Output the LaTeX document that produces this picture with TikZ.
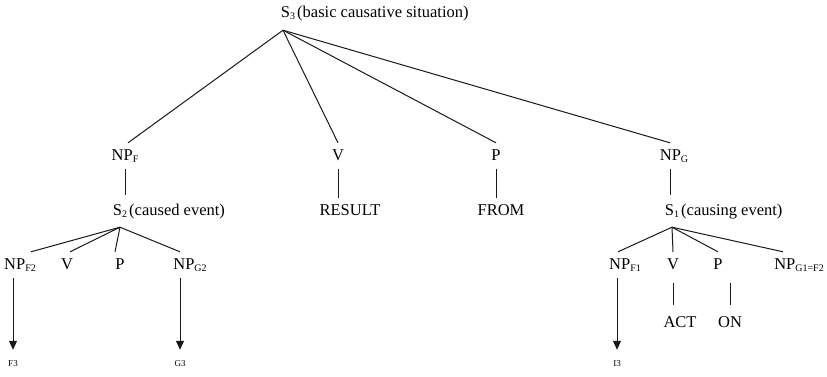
\documentclass[tikz,border=0pt]{standalone}
\usepackage{fontspec}
\setmainfont{Liberation Serif}
\usetikzlibrary{arrows.meta}
\newcommand\sbs[1]{\raisebox{-0.35ex}{\fontsize{10}{10}\selectfont #1}}
\begin{document}
\begin{tikzpicture}[x=1pt,y=-1pt,
  tn/.style={font=\fontsize{16.5}{19}\selectfont, inner xsep=0pt, inner ysep=6pt, text height=11pt, text depth=3pt},
  leaf/.style={font=\fontsize{9}{10}\selectfont, inner xsep=0pt, inner ysep=11pt},
  edge/.style={line width=1pt, draw=black!90},
  arr/.style={edge, -{Triangle[length=9pt,width=8pt]}}]
\useasboundingbox (0,0) rectangle (827,376);
% root
\node[tn, inner ysep=10pt] (s3) at (288,13) {S\sbs{3}};
\node[tn, anchor=west] (s3d) at (297,13) {(basic causative situation)};
% row 1
\node[tn] (npf) at (125,156) {NP\sbs{F}};
\node[tn] (v1) at (338,156) {V};
\node[tn] (p1) at (496,156) {P};
\node[tn] (npg) at (674,156) {NP\sbs{G}};
% row 2
\node[tn, inner ysep=9pt] (s2) at (120,211) {S\sbs{2}};
\node[tn, anchor=west] (s2d) at (129,211) {(caused event)};
\node[tn] (result) at (350,211) {RESULT};
\node[tn] (from) at (501,211) {FROM};
\node[tn, inner ysep=9pt] (s1) at (672,211) {S\sbs{1}};
\node[tn, anchor=west] (s1d) at (681,211) {(causing event)};
% row 3
\node[tn] (npf2) at (20,265) {NP\sbs{F2}};
\node[tn] (v2) at (67,265) {V};
\node[tn] (p2) at (120,265) {P};
\node[tn] (npg2) at (190,265) {NP\sbs{G2}};
\node[tn] (npf1) at (625,265) {NP\sbs{F1}};
\node[tn] (v3) at (673,265) {V};
\node[tn] (p3) at (718,265) {P};
\node[tn] (npg1) at (799,265) {NP\sbs{G1=F2}};
% row 4
\node[tn, inner ysep=11pt] (act) at (680,323) {ACT};
\node[tn, inner ysep=11pt] (on) at (730,323) {ON};
% leaves
\node[leaf] (f3) at (13,364) {F3};
\node[leaf] (g3) at (180,364) {G3};
\node[leaf] (i3) at (617,364) {I3};
% connectors
\draw[edge] ([xshift=-5pt]s3.south) -- ([xshift=3pt]npf.north);
\draw[edge] ([xshift=-5pt]s3.south) -- (v1.north);
\draw[edge] ([xshift=-5pt]s3.south) -- (p1.north);
\draw[edge] ([xshift=-5pt]s3.south) -- ([xshift=-4pt]npg.north);
\draw[edge] (npf.south) -- (npf.south |- s2.north);
\draw[edge] (v1.south) -- (v1.south |- result.north);
\draw[edge] (p1.south) -- (p1.south |- from.north);
\draw[edge] ([xshift=-4pt]npg.south) -- ([xshift=-4pt]npg.south |- s1.north);
\draw[edge] (s2.south) -- ([xshift=11pt]npf2.north);
\draw[edge] (s2.south) -- ([xshift=3pt]v2.north);
\draw[edge] (s2.south) -- ([xshift=-5pt]p2.north);
\draw[edge] (s2.south) -- ([xshift=-10pt]npg2.north);
\draw[edge] (s1.south) -- ([xshift=-7pt]npf1.north);
\draw[edge] (s1.south) -- (v3.north);
\draw[edge] (s1.south) -- (p3.north);
\draw[edge] (s1.south) -- ([xshift=-16pt]npg1.north);
\draw[edge] ([yshift=-5pt]v3.south) -- (v3.south |- act.north);
\draw[edge] ([yshift=-5pt]on.north |- p3.south) -- (on.north);
\draw[arr] (f3.north |- npf2.south) -- (f3.north);
\draw[arr] (g3.north |- npg2.south) -- (g3.north);
\draw[arr] (i3.north |- npf1.south) -- (i3.north);
\end{tikzpicture}
\end{document}
